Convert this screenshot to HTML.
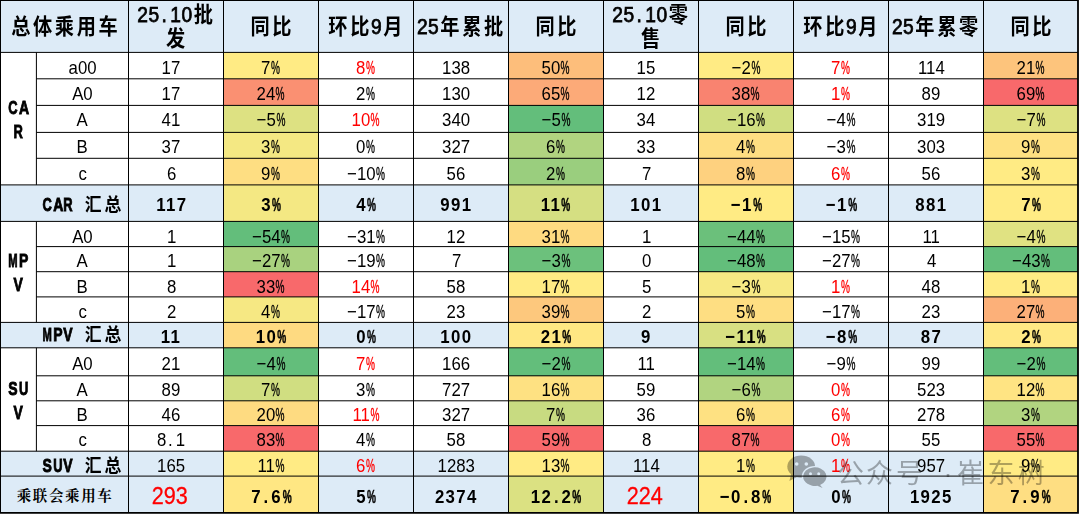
<!DOCTYPE html>
<html lang="zh"><head><meta charset="utf-8"><title>总体乘用车</title>
<style>html,body{margin:0;padding:0;background:#fff}
body{width:1080px;height:515px;position:relative;overflow:hidden;font-family:"Liberation Sans",sans-serif;font-size:18.67px;color:#000}
.c{position:absolute;display:flex;align-items:center;justify-content:center;text-align:center;box-sizing:border-box;white-space:nowrap;overflow:hidden}
.t{line-height:1;padding-top:5px;transform:scaleX(.9);transform-origin:50% 50%}
.num .t{padding-right:10.4px}
.u1 .t{padding-top:3px}
.d1 .t{padding-top:6.4px}
.dot{display:inline-block;width:.5556em;text-align:left;text-indent:.1em}
.pc{-webkit-text-stroke:.4px;display:inline-block;width:.5556em;transform:scaleX(.6);transform-origin:0 50%;margin-left:.02em}
.L{display:inline-block;width:.5556em;transform-origin:0 50%;text-align:left;margin-right:1.15px;font-weight:bold;-webkit-text-stroke:.9px #000;letter-spacing:0}
.k{display:inline-block;font-family:"Liberation Sans","Noto Sans CJK SC",sans-serif;font-weight:bold;-webkit-text-stroke:0;letter-spacing:0;text-align:center;line-height:1;text-indent:0}
.h{font-size:21.33px}
.h .t{line-height:24.7px;padding-top:1.6px}
.h .k{width:23.7px;font-size:21.33px;margin-right:.6px}
.h,.b{-webkit-text-stroke:.55px;letter-spacing:1.3px}
.b{font-weight:bold;-webkit-text-stroke:0;letter-spacing:1.5px}
.h{letter-spacing:.55px;-webkit-text-stroke:.75px}
.b .k{width:20.74px;font-size:18.67px;margin-right:1.1px}
.r{color:#FF0000}
.big{font-size:24px;-webkit-text-stroke:.3px #FF0000}
.big .t{padding-top:3px;padding-right:13px}
.grp .t{line-height:23.8px;padding-top:2.5px}
.sp{display:inline-block;width:11.5px}
.tot .t{padding-top:1px;padding-right:.5px;transform:none}
.tot .k{width:16.1px;font-size:14.5px;font-family:"Liberation Serif","Noto Serif CJK SC",serif;font-weight:bold}
.b .pc{-webkit-text-stroke:.5px #000}
#grid,#wm{position:absolute;left:0;top:0}
.lab10 .t{padding-top:.6px}
</style></head>
<body>
<div class="c h" style="left:0.50px;top:0.50px;width:128.00px;height:51.90px;background:#DDEBF7;"><div class="t"><span class="k">总</span><span class="k">体</span><span class="k">乘</span><span class="k">用</span><span class="k">车</span></div></div>
<div class="c h h2" style="left:128.50px;top:0.50px;width:95.00px;height:51.90px;background:#DDEBF7;"><div class="t">25<span class="dot">.</span>10<span class="k">批</span><br><span class="k">发</span></div></div>
<div class="c h" style="left:223.50px;top:0.50px;width:95.00px;height:51.90px;background:#DDEBF7;"><div class="t"><span class="k">同</span><span class="k">比</span></div></div>
<div class="c h" style="left:318.50px;top:0.50px;width:95.00px;height:51.90px;background:#DDEBF7;"><div class="t"><span class="k">环</span><span class="k">比</span>9<span class="k">月</span></div></div>
<div class="c h" style="left:413.50px;top:0.50px;width:95.00px;height:51.90px;background:#DDEBF7;"><div class="t">25<span class="k">年</span><span class="k">累</span><span class="k">批</span></div></div>
<div class="c h" style="left:508.50px;top:0.50px;width:95.00px;height:51.90px;background:#DDEBF7;"><div class="t"><span class="k">同</span><span class="k">比</span></div></div>
<div class="c h h2" style="left:603.50px;top:0.50px;width:95.00px;height:51.90px;background:#DDEBF7;"><div class="t">25<span class="dot">.</span>10<span class="k">零</span><br><span class="k">售</span></div></div>
<div class="c h" style="left:698.50px;top:0.50px;width:95.00px;height:51.90px;background:#DDEBF7;"><div class="t"><span class="k">同</span><span class="k">比</span></div></div>
<div class="c h" style="left:793.50px;top:0.50px;width:95.00px;height:51.90px;background:#DDEBF7;"><div class="t"><span class="k">环</span><span class="k">比</span>9<span class="k">月</span></div></div>
<div class="c h" style="left:888.50px;top:0.50px;width:95.00px;height:51.90px;background:#DDEBF7;"><div class="t">25<span class="k">年</span><span class="k">累</span><span class="k">零</span></div></div>
<div class="c h" style="left:983.50px;top:0.50px;width:94.70px;height:51.90px;background:#DDEBF7;"><div class="t"><span class="k">同</span><span class="k">比</span></div></div>
<div class="c b grp" style="left:0.50px;top:52.40px;width:35.90px;height:132.50px;"><div class="t"><span class="L" style="transform:scaleX(0.769)">C</span><span class="L" style="transform:scaleX(0.833)">A</span><br><span class="L" style="transform:scaleX(0.769)">R</span></div></div>
<div class="c b grp" style="left:0.50px;top:221.40px;width:35.90px;height:101.00px;"><div class="t"><span class="L" style="transform:scaleX(0.667)">M</span><span class="L" style="transform:scaleX(0.833)">P</span><br><span class="L" style="transform:scaleX(0.833)">V</span></div></div>
<div class="c b grp" style="left:0.50px;top:347.80px;width:35.90px;height:103.40px;"><div class="t"><span class="L" style="transform:scaleX(0.833)">S</span><span class="L" style="transform:scaleX(0.769)">U</span><br><span class="L" style="transform:scaleX(0.833)">V</span></div></div>
<div class="c" style="left:36.40px;top:52.40px;width:92.10px;height:26.40px;"><div class="t">a00</div></div>
<div class="c num" style="left:128.50px;top:52.40px;width:95.00px;height:26.40px;"><div class="t">17</div></div>
<div class="c" style="left:223.50px;top:52.40px;width:95.00px;height:26.40px;background:#FFEB84;"><div class="t">7<span class="pc">%</span></div></div>
<div class="c r" style="left:318.50px;top:52.40px;width:95.00px;height:26.40px;"><div class="t">8<span class="pc">%</span></div></div>
<div class="c num" style="left:413.50px;top:52.40px;width:95.00px;height:26.40px;"><div class="t">138</div></div>
<div class="c" style="left:508.50px;top:52.40px;width:95.00px;height:26.40px;background:#FDBE7B;"><div class="t">50<span class="pc">%</span></div></div>
<div class="c num" style="left:603.50px;top:52.40px;width:95.00px;height:26.40px;"><div class="t">15</div></div>
<div class="c" style="left:698.50px;top:52.40px;width:95.00px;height:26.40px;background:#FFEB84;"><div class="t">−2<span class="pc">%</span></div></div>
<div class="c r" style="left:793.50px;top:52.40px;width:95.00px;height:26.40px;"><div class="t">7<span class="pc">%</span></div></div>
<div class="c num" style="left:888.50px;top:52.40px;width:95.00px;height:26.40px;"><div class="t">114</div></div>
<div class="c" style="left:983.50px;top:52.40px;width:94.70px;height:26.40px;background:#FDC47C;"><div class="t">21<span class="pc">%</span></div></div>
<div class="c" style="left:36.40px;top:78.80px;width:92.10px;height:26.60px;"><div class="t">A0</div></div>
<div class="c num" style="left:128.50px;top:78.80px;width:95.00px;height:26.60px;"><div class="t">17</div></div>
<div class="c" style="left:223.50px;top:78.80px;width:95.00px;height:26.60px;background:#FA9072;"><div class="t">24<span class="pc">%</span></div></div>
<div class="c" style="left:318.50px;top:78.80px;width:95.00px;height:26.60px;"><div class="t">2<span class="pc">%</span></div></div>
<div class="c num" style="left:413.50px;top:78.80px;width:95.00px;height:26.60px;"><div class="t">130</div></div>
<div class="c" style="left:508.50px;top:78.80px;width:95.00px;height:26.60px;background:#FCAA78;"><div class="t">65<span class="pc">%</span></div></div>
<div class="c num" style="left:603.50px;top:78.80px;width:95.00px;height:26.60px;"><div class="t">12</div></div>
<div class="c" style="left:698.50px;top:78.80px;width:95.00px;height:26.60px;background:#F98370;"><div class="t">38<span class="pc">%</span></div></div>
<div class="c r" style="left:793.50px;top:78.80px;width:95.00px;height:26.60px;"><div class="t">1<span class="pc">%</span></div></div>
<div class="c num" style="left:888.50px;top:78.80px;width:95.00px;height:26.60px;"><div class="t">89</div></div>
<div class="c" style="left:983.50px;top:78.80px;width:94.70px;height:26.60px;background:#F8696B;"><div class="t">69<span class="pc">%</span></div></div>
<div class="c u1" style="left:36.40px;top:105.40px;width:92.10px;height:27.00px;"><div class="t">A</div></div>
<div class="c num u1" style="left:128.50px;top:105.40px;width:95.00px;height:27.00px;"><div class="t">41</div></div>
<div class="c u1" style="left:223.50px;top:105.40px;width:95.00px;height:27.00px;background:#DDE182;"><div class="t">−5<span class="pc">%</span></div></div>
<div class="c r u1" style="left:318.50px;top:105.40px;width:95.00px;height:27.00px;"><div class="t">10<span class="pc">%</span></div></div>
<div class="c num u1" style="left:413.50px;top:105.40px;width:95.00px;height:27.00px;"><div class="t">340</div></div>
<div class="c u1" style="left:508.50px;top:105.40px;width:95.00px;height:27.00px;background:#63BE7B;"><div class="t">−5<span class="pc">%</span></div></div>
<div class="c num u1" style="left:603.50px;top:105.40px;width:95.00px;height:27.00px;"><div class="t">34</div></div>
<div class="c u1" style="left:698.50px;top:105.40px;width:95.00px;height:27.00px;background:#D0DE81;"><div class="t">−16<span class="pc">%</span></div></div>
<div class="c u1" style="left:793.50px;top:105.40px;width:95.00px;height:27.00px;"><div class="t">−4<span class="pc">%</span></div></div>
<div class="c num u1" style="left:888.50px;top:105.40px;width:95.00px;height:27.00px;"><div class="t">319</div></div>
<div class="c u1" style="left:983.50px;top:105.40px;width:94.70px;height:27.00px;background:#DDE182;"><div class="t">−7<span class="pc">%</span></div></div>
<div class="c u1" style="left:36.40px;top:132.40px;width:92.10px;height:25.90px;"><div class="t">B</div></div>
<div class="c num u1" style="left:128.50px;top:132.40px;width:95.00px;height:25.90px;"><div class="t">37</div></div>
<div class="c u1" style="left:223.50px;top:132.40px;width:95.00px;height:25.90px;background:#F4E883;"><div class="t">3<span class="pc">%</span></div></div>
<div class="c u1" style="left:318.50px;top:132.40px;width:95.00px;height:25.90px;"><div class="t">0<span class="pc">%</span></div></div>
<div class="c num u1" style="left:413.50px;top:132.40px;width:95.00px;height:25.90px;"><div class="t">327</div></div>
<div class="c u1" style="left:508.50px;top:132.40px;width:95.00px;height:25.90px;background:#B1D480;"><div class="t">6<span class="pc">%</span></div></div>
<div class="c num u1" style="left:603.50px;top:132.40px;width:95.00px;height:25.90px;"><div class="t">33</div></div>
<div class="c u1" style="left:698.50px;top:132.40px;width:95.00px;height:25.90px;background:#FEDE82;"><div class="t">4<span class="pc">%</span></div></div>
<div class="c u1" style="left:793.50px;top:132.40px;width:95.00px;height:25.90px;"><div class="t">−3<span class="pc">%</span></div></div>
<div class="c num u1" style="left:888.50px;top:132.40px;width:95.00px;height:25.90px;"><div class="t">303</div></div>
<div class="c u1" style="left:983.50px;top:132.40px;width:94.70px;height:25.90px;background:#FEE182;"><div class="t">9<span class="pc">%</span></div></div>
<div class="c" style="left:36.40px;top:158.30px;width:92.10px;height:26.60px;"><div class="t">c</div></div>
<div class="c num" style="left:128.50px;top:158.30px;width:95.00px;height:26.60px;"><div class="t">6</div></div>
<div class="c" style="left:223.50px;top:158.30px;width:95.00px;height:26.60px;background:#FEDE82;"><div class="t">9<span class="pc">%</span></div></div>
<div class="c" style="left:318.50px;top:158.30px;width:95.00px;height:26.60px;"><div class="t">−10<span class="pc">%</span></div></div>
<div class="c num" style="left:413.50px;top:158.30px;width:95.00px;height:26.60px;"><div class="t">56</div></div>
<div class="c" style="left:508.50px;top:158.30px;width:95.00px;height:26.60px;background:#9ACE7E;"><div class="t">2<span class="pc">%</span></div></div>
<div class="c num" style="left:603.50px;top:158.30px;width:95.00px;height:26.60px;"><div class="t">7</div></div>
<div class="c" style="left:698.50px;top:158.30px;width:95.00px;height:26.60px;background:#FED17F;"><div class="t">8<span class="pc">%</span></div></div>
<div class="c r" style="left:793.50px;top:158.30px;width:95.00px;height:26.60px;"><div class="t">6<span class="pc">%</span></div></div>
<div class="c num" style="left:888.50px;top:158.30px;width:95.00px;height:26.60px;"><div class="t">56</div></div>
<div class="c" style="left:983.50px;top:158.30px;width:94.70px;height:26.60px;background:#FFEB84;"><div class="t">3<span class="pc">%</span></div></div>
<div class="c" style="left:0.50px;top:184.90px;width:35.90px;height:36.50px;background:#DDEBF7;"></div>
<div class="c b lab5" style="left:36.40px;top:184.90px;width:92.10px;height:36.50px;background:#DDEBF7;"><div class="t"><span class="L" style="transform:scaleX(0.769)">C</span><span class="L" style="transform:scaleX(0.833)">A</span><span class="L" style="transform:scaleX(0.769)">R</span><span class="sp"></span><span class="k">汇</span><span class="k">总</span></div></div>
<div class="c b num" style="left:128.50px;top:184.90px;width:95.00px;height:36.50px;background:#DDEBF7;"><div class="t">117</div></div>
<div class="c b" style="left:223.50px;top:184.90px;width:95.00px;height:36.50px;background:#F4E883;"><div class="t">3<span class="pc">%</span></div></div>
<div class="c b" style="left:318.50px;top:184.90px;width:95.00px;height:36.50px;background:#DDEBF7;"><div class="t">4<span class="pc">%</span></div></div>
<div class="c b num" style="left:413.50px;top:184.90px;width:95.00px;height:36.50px;background:#DDEBF7;"><div class="t">991</div></div>
<div class="c b" style="left:508.50px;top:184.90px;width:95.00px;height:36.50px;background:#D5DF82;"><div class="t">11<span class="pc">%</span></div></div>
<div class="c b num" style="left:603.50px;top:184.90px;width:95.00px;height:36.50px;background:#DDEBF7;"><div class="t">101</div></div>
<div class="c b" style="left:698.50px;top:184.90px;width:95.00px;height:36.50px;background:#FFEB84;"><div class="t">−1<span class="pc">%</span></div></div>
<div class="c b" style="left:793.50px;top:184.90px;width:95.00px;height:36.50px;background:#DDEBF7;"><div class="t">−1<span class="pc">%</span></div></div>
<div class="c b num" style="left:888.50px;top:184.90px;width:95.00px;height:36.50px;background:#DDEBF7;"><div class="t">881</div></div>
<div class="c b" style="left:983.50px;top:184.90px;width:94.70px;height:36.50px;background:#FFEB84;"><div class="t">7<span class="pc">%</span></div></div>
<div class="c d1" style="left:36.40px;top:221.40px;width:92.10px;height:25.20px;"><div class="t">A0</div></div>
<div class="c num d1" style="left:128.50px;top:221.40px;width:95.00px;height:25.20px;"><div class="t">1</div></div>
<div class="c d1" style="left:223.50px;top:221.40px;width:95.00px;height:25.20px;background:#63BE7B;"><div class="t">−54<span class="pc">%</span></div></div>
<div class="c d1" style="left:318.50px;top:221.40px;width:95.00px;height:25.20px;"><div class="t">−31<span class="pc">%</span></div></div>
<div class="c num d1" style="left:413.50px;top:221.40px;width:95.00px;height:25.20px;"><div class="t">12</div></div>
<div class="c d1" style="left:508.50px;top:221.40px;width:95.00px;height:25.20px;background:#FEDA81;"><div class="t">31<span class="pc">%</span></div></div>
<div class="c num d1" style="left:603.50px;top:221.40px;width:95.00px;height:25.20px;"><div class="t">1</div></div>
<div class="c d1" style="left:698.50px;top:221.40px;width:95.00px;height:25.20px;background:#6BC07B;"><div class="t">−44<span class="pc">%</span></div></div>
<div class="c d1" style="left:793.50px;top:221.40px;width:95.00px;height:25.20px;"><div class="t">−15<span class="pc">%</span></div></div>
<div class="c num d1" style="left:888.50px;top:221.40px;width:95.00px;height:25.20px;"><div class="t">11</div></div>
<div class="c d1" style="left:983.50px;top:221.40px;width:94.70px;height:25.20px;background:#E0E282;"><div class="t">−4<span class="pc">%</span></div></div>
<div class="c" style="left:36.40px;top:246.60px;width:92.10px;height:25.10px;"><div class="t">A</div></div>
<div class="c num" style="left:128.50px;top:246.60px;width:95.00px;height:25.10px;"><div class="t">1</div></div>
<div class="c" style="left:223.50px;top:246.60px;width:95.00px;height:25.10px;background:#A9D27F;"><div class="t">−27<span class="pc">%</span></div></div>
<div class="c" style="left:318.50px;top:246.60px;width:95.00px;height:25.10px;"><div class="t">−19<span class="pc">%</span></div></div>
<div class="c num" style="left:413.50px;top:246.60px;width:95.00px;height:25.10px;"><div class="t">7</div></div>
<div class="c" style="left:508.50px;top:246.60px;width:95.00px;height:25.10px;background:#6CC17C;"><div class="t">−3<span class="pc">%</span></div></div>
<div class="c num" style="left:603.50px;top:246.60px;width:95.00px;height:25.10px;"><div class="t">0</div></div>
<div class="c" style="left:698.50px;top:246.60px;width:95.00px;height:25.10px;background:#63BE7B;"><div class="t">−48<span class="pc">%</span></div></div>
<div class="c" style="left:793.50px;top:246.60px;width:95.00px;height:25.10px;"><div class="t">−27<span class="pc">%</span></div></div>
<div class="c num" style="left:888.50px;top:246.60px;width:95.00px;height:25.10px;"><div class="t">4</div></div>
<div class="c" style="left:983.50px;top:246.60px;width:94.70px;height:25.10px;background:#63BE7B;"><div class="t">−43<span class="pc">%</span></div></div>
<div class="c d1" style="left:36.40px;top:271.70px;width:92.10px;height:25.20px;"><div class="t">B</div></div>
<div class="c num d1" style="left:128.50px;top:271.70px;width:95.00px;height:25.20px;"><div class="t">8</div></div>
<div class="c d1" style="left:223.50px;top:271.70px;width:95.00px;height:25.20px;background:#F8696B;"><div class="t">33<span class="pc">%</span></div></div>
<div class="c r d1" style="left:318.50px;top:271.70px;width:95.00px;height:25.20px;"><div class="t">14<span class="pc">%</span></div></div>
<div class="c num d1" style="left:413.50px;top:271.70px;width:95.00px;height:25.20px;"><div class="t">58</div></div>
<div class="c d1" style="left:508.50px;top:271.70px;width:95.00px;height:25.20px;background:#FFEB84;"><div class="t">17<span class="pc">%</span></div></div>
<div class="c num d1" style="left:603.50px;top:271.70px;width:95.00px;height:25.20px;"><div class="t">5</div></div>
<div class="c d1" style="left:698.50px;top:271.70px;width:95.00px;height:25.20px;background:#F7E984;"><div class="t">−3<span class="pc">%</span></div></div>
<div class="c r d1" style="left:793.50px;top:271.70px;width:95.00px;height:25.20px;"><div class="t">1<span class="pc">%</span></div></div>
<div class="c num d1" style="left:888.50px;top:271.70px;width:95.00px;height:25.20px;"><div class="t">48</div></div>
<div class="c d1" style="left:983.50px;top:271.70px;width:94.70px;height:25.20px;background:#FFEB84;"><div class="t">1<span class="pc">%</span></div></div>
<div class="c" style="left:36.40px;top:296.90px;width:92.10px;height:25.50px;"><div class="t">c</div></div>
<div class="c num" style="left:128.50px;top:296.90px;width:95.00px;height:25.50px;"><div class="t">2</div></div>
<div class="c" style="left:223.50px;top:296.90px;width:95.00px;height:25.50px;background:#F6E883;"><div class="t">4<span class="pc">%</span></div></div>
<div class="c" style="left:318.50px;top:296.90px;width:95.00px;height:25.50px;"><div class="t">−17<span class="pc">%</span></div></div>
<div class="c num" style="left:413.50px;top:296.90px;width:95.00px;height:25.50px;"><div class="t">23</div></div>
<div class="c" style="left:508.50px;top:296.90px;width:95.00px;height:25.50px;background:#FDC87D;"><div class="t">39<span class="pc">%</span></div></div>
<div class="c num" style="left:603.50px;top:296.90px;width:95.00px;height:25.50px;"><div class="t">2</div></div>
<div class="c" style="left:698.50px;top:296.90px;width:95.00px;height:25.50px;background:#FEDE82;"><div class="t">5<span class="pc">%</span></div></div>
<div class="c" style="left:793.50px;top:296.90px;width:95.00px;height:25.50px;"><div class="t">−17<span class="pc">%</span></div></div>
<div class="c num" style="left:888.50px;top:296.90px;width:95.00px;height:25.50px;"><div class="t">23</div></div>
<div class="c" style="left:983.50px;top:296.90px;width:94.70px;height:25.50px;background:#FCB079;"><div class="t">27<span class="pc">%</span></div></div>
<div class="c" style="left:0.50px;top:322.40px;width:35.90px;height:25.40px;background:#DDEBF7;"></div>
<div class="c b lab10" style="left:36.40px;top:322.40px;width:92.10px;height:25.40px;background:#DDEBF7;"><div class="t"><span class="L" style="transform:scaleX(0.667)">M</span><span class="L" style="transform:scaleX(0.833)">P</span><span class="L" style="transform:scaleX(0.833)">V</span><span class="sp"></span><span class="k">汇</span><span class="k">总</span></div></div>
<div class="c b num" style="left:128.50px;top:322.40px;width:95.00px;height:25.40px;background:#DDEBF7;"><div class="t">11</div></div>
<div class="c b" style="left:223.50px;top:322.40px;width:95.00px;height:25.40px;background:#FEDA81;"><div class="t">10<span class="pc">%</span></div></div>
<div class="c b" style="left:318.50px;top:322.40px;width:95.00px;height:25.40px;background:#DDEBF7;"><div class="t">0<span class="pc">%</span></div></div>
<div class="c b num" style="left:413.50px;top:322.40px;width:95.00px;height:25.40px;background:#DDEBF7;"><div class="t">100</div></div>
<div class="c b" style="left:508.50px;top:322.40px;width:95.00px;height:25.40px;background:#FFE783;"><div class="t">21<span class="pc">%</span></div></div>
<div class="c b num" style="left:603.50px;top:322.40px;width:95.00px;height:25.40px;background:#DDEBF7;"><div class="t">9</div></div>
<div class="c b" style="left:698.50px;top:322.40px;width:95.00px;height:25.40px;background:#D8E082;"><div class="t">−11<span class="pc">%</span></div></div>
<div class="c b" style="left:793.50px;top:322.40px;width:95.00px;height:25.40px;background:#DDEBF7;"><div class="t">−8<span class="pc">%</span></div></div>
<div class="c b num" style="left:888.50px;top:322.40px;width:95.00px;height:25.40px;background:#DDEBF7;"><div class="t">87</div></div>
<div class="c b" style="left:983.50px;top:322.40px;width:94.70px;height:25.40px;background:#FFE884;"><div class="t">2<span class="pc">%</span></div></div>
<div class="c" style="left:36.40px;top:347.80px;width:92.10px;height:28.00px;"><div class="t">A0</div></div>
<div class="c num" style="left:128.50px;top:347.80px;width:95.00px;height:28.00px;"><div class="t">21</div></div>
<div class="c" style="left:223.50px;top:347.80px;width:95.00px;height:28.00px;background:#63BE7B;"><div class="t">−4<span class="pc">%</span></div></div>
<div class="c r" style="left:318.50px;top:347.80px;width:95.00px;height:28.00px;"><div class="t">7<span class="pc">%</span></div></div>
<div class="c num" style="left:413.50px;top:347.80px;width:95.00px;height:28.00px;"><div class="t">166</div></div>
<div class="c" style="left:508.50px;top:347.80px;width:95.00px;height:28.00px;background:#63BE7B;"><div class="t">−2<span class="pc">%</span></div></div>
<div class="c num" style="left:603.50px;top:347.80px;width:95.00px;height:28.00px;"><div class="t">11</div></div>
<div class="c" style="left:698.50px;top:347.80px;width:95.00px;height:28.00px;background:#63BE7B;"><div class="t">−14<span class="pc">%</span></div></div>
<div class="c" style="left:793.50px;top:347.80px;width:95.00px;height:28.00px;"><div class="t">−9<span class="pc">%</span></div></div>
<div class="c num" style="left:888.50px;top:347.80px;width:95.00px;height:28.00px;"><div class="t">99</div></div>
<div class="c" style="left:983.50px;top:347.80px;width:94.70px;height:28.00px;background:#63BE7B;"><div class="t">−2<span class="pc">%</span></div></div>
<div class="c" style="left:36.40px;top:375.80px;width:92.10px;height:25.00px;"><div class="t">A</div></div>
<div class="c num" style="left:128.50px;top:375.80px;width:95.00px;height:25.00px;"><div class="t">89</div></div>
<div class="c" style="left:223.50px;top:375.80px;width:95.00px;height:25.00px;background:#D0DE81;"><div class="t">7<span class="pc">%</span></div></div>
<div class="c" style="left:318.50px;top:375.80px;width:95.00px;height:25.00px;"><div class="t">3<span class="pc">%</span></div></div>
<div class="c num" style="left:413.50px;top:375.80px;width:95.00px;height:25.00px;"><div class="t">727</div></div>
<div class="c" style="left:508.50px;top:375.80px;width:95.00px;height:25.00px;background:#FEE182;"><div class="t">16<span class="pc">%</span></div></div>
<div class="c num" style="left:603.50px;top:375.80px;width:95.00px;height:25.00px;"><div class="t">59</div></div>
<div class="c" style="left:698.50px;top:375.80px;width:95.00px;height:25.00px;background:#B1D480;"><div class="t">−6<span class="pc">%</span></div></div>
<div class="c r" style="left:793.50px;top:375.80px;width:95.00px;height:25.00px;"><div class="t">0<span class="pc">%</span></div></div>
<div class="c num" style="left:888.50px;top:375.80px;width:95.00px;height:25.00px;"><div class="t">523</div></div>
<div class="c" style="left:983.50px;top:375.80px;width:94.70px;height:25.00px;background:#FFE483;"><div class="t">12<span class="pc">%</span></div></div>
<div class="c" style="left:36.40px;top:400.80px;width:92.10px;height:24.80px;"><div class="t">B</div></div>
<div class="c num" style="left:128.50px;top:400.80px;width:95.00px;height:24.80px;"><div class="t">46</div></div>
<div class="c" style="left:223.50px;top:400.80px;width:95.00px;height:24.80px;background:#FEDB81;"><div class="t">20<span class="pc">%</span></div></div>
<div class="c r" style="left:318.50px;top:400.80px;width:95.00px;height:24.80px;"><div class="t">11<span class="pc">%</span></div></div>
<div class="c num" style="left:413.50px;top:400.80px;width:95.00px;height:24.80px;"><div class="t">327</div></div>
<div class="c" style="left:508.50px;top:400.80px;width:95.00px;height:24.80px;background:#C8DB81;"><div class="t">7<span class="pc">%</span></div></div>
<div class="c num" style="left:603.50px;top:400.80px;width:95.00px;height:24.80px;"><div class="t">36</div></div>
<div class="c" style="left:698.50px;top:400.80px;width:95.00px;height:24.80px;background:#FEE182;"><div class="t">6<span class="pc">%</span></div></div>
<div class="c r" style="left:793.50px;top:400.80px;width:95.00px;height:24.80px;"><div class="t">6<span class="pc">%</span></div></div>
<div class="c num" style="left:888.50px;top:400.80px;width:95.00px;height:24.80px;"><div class="t">278</div></div>
<div class="c" style="left:983.50px;top:400.80px;width:94.70px;height:24.80px;background:#B1D480;"><div class="t">3<span class="pc">%</span></div></div>
<div class="c u1" style="left:36.40px;top:425.60px;width:92.10px;height:25.60px;"><div class="t">c</div></div>
<div class="c num u1" style="left:128.50px;top:425.60px;width:95.00px;height:25.60px;"><div class="t">8<span class="dot">.</span>1</div></div>
<div class="c u1" style="left:223.50px;top:425.60px;width:95.00px;height:25.60px;background:#F8696B;"><div class="t">83<span class="pc">%</span></div></div>
<div class="c u1" style="left:318.50px;top:425.60px;width:95.00px;height:25.60px;"><div class="t">4<span class="pc">%</span></div></div>
<div class="c num u1" style="left:413.50px;top:425.60px;width:95.00px;height:25.60px;"><div class="t">58</div></div>
<div class="c u1" style="left:508.50px;top:425.60px;width:95.00px;height:25.60px;background:#F8696B;"><div class="t">59<span class="pc">%</span></div></div>
<div class="c num u1" style="left:603.50px;top:425.60px;width:95.00px;height:25.60px;"><div class="t">8</div></div>
<div class="c u1" style="left:698.50px;top:425.60px;width:95.00px;height:25.60px;background:#F8696B;"><div class="t">87<span class="pc">%</span></div></div>
<div class="c r u1" style="left:793.50px;top:425.60px;width:95.00px;height:25.60px;"><div class="t">0<span class="pc">%</span></div></div>
<div class="c num u1" style="left:888.50px;top:425.60px;width:95.00px;height:25.60px;"><div class="t">55</div></div>
<div class="c u1" style="left:983.50px;top:425.60px;width:94.70px;height:25.60px;background:#F8696B;"><div class="t">55<span class="pc">%</span></div></div>
<div class="c" style="left:0.50px;top:451.20px;width:35.90px;height:24.90px;background:#DDEBF7;"></div>
<div class="c b lab15" style="left:36.40px;top:451.20px;width:92.10px;height:24.90px;background:#DDEBF7;"><div class="t"><span class="L" style="transform:scaleX(0.833)">S</span><span class="L" style="transform:scaleX(0.769)">U</span><span class="L" style="transform:scaleX(0.833)">V</span><span class="sp"></span><span class="k">汇</span><span class="k">总</span></div></div>
<div class="c num" style="left:128.50px;top:451.20px;width:95.00px;height:24.90px;background:#DDEBF7;"><div class="t">165</div></div>
<div class="c" style="left:223.50px;top:451.20px;width:95.00px;height:24.90px;background:#FFEB84;"><div class="t">11<span class="pc">%</span></div></div>
<div class="c r" style="left:318.50px;top:451.20px;width:95.00px;height:24.90px;background:#DDEBF7;"><div class="t">6<span class="pc">%</span></div></div>
<div class="c num" style="left:413.50px;top:451.20px;width:95.00px;height:24.90px;background:#DDEBF7;"><div class="t">1283</div></div>
<div class="c" style="left:508.50px;top:451.20px;width:95.00px;height:24.90px;background:#FFEB84;"><div class="t">13<span class="pc">%</span></div></div>
<div class="c num" style="left:603.50px;top:451.20px;width:95.00px;height:24.90px;background:#DDEBF7;"><div class="t">114</div></div>
<div class="c" style="left:698.50px;top:451.20px;width:95.00px;height:24.90px;background:#FFEB84;"><div class="t">1<span class="pc">%</span></div></div>
<div class="c r" style="left:793.50px;top:451.20px;width:95.00px;height:24.90px;background:#DDEBF7;"><div class="t">1<span class="pc">%</span></div></div>
<div class="c num" style="left:888.50px;top:451.20px;width:95.00px;height:24.90px;background:#DDEBF7;"><div class="t">957</div></div>
<div class="c" style="left:983.50px;top:451.20px;width:94.70px;height:24.90px;background:#FFEB84;"><div class="t">9<span class="pc">%</span></div></div>
<div class="c tot" style="left:0.50px;top:476.10px;width:128.00px;height:36.70px;background:#DDEBF7;"><div class="t"><span class="k">乘</span><span class="k">联</span><span class="k">会</span><span class="k">乘</span><span class="k">用</span><span class="k">车</span></div></div>
<div class="c r big num" style="left:128.50px;top:476.10px;width:95.00px;height:36.70px;background:#DDEBF7;"><div class="t">293</div></div>
<div class="c b" style="left:223.50px;top:476.10px;width:95.00px;height:36.70px;background:#FFE783;"><div class="t">7<span class="dot">.</span>6<span class="pc">%</span></div></div>
<div class="c b" style="left:318.50px;top:476.10px;width:95.00px;height:36.70px;background:#DDEBF7;"><div class="t">5<span class="pc">%</span></div></div>
<div class="c b num" style="left:413.50px;top:476.10px;width:95.00px;height:36.70px;background:#DDEBF7;"><div class="t">2374</div></div>
<div class="c b" style="left:508.50px;top:476.10px;width:95.00px;height:36.70px;background:#DBE182;"><div class="t">12<span class="dot">.</span>2<span class="pc">%</span></div></div>
<div class="c r big num" style="left:603.50px;top:476.10px;width:95.00px;height:36.70px;background:#DDEBF7;"><div class="t">224</div></div>
<div class="c b" style="left:698.50px;top:476.10px;width:95.00px;height:36.70px;background:#FFEB84;"><div class="t">−0<span class="dot">.</span>8<span class="pc">%</span></div></div>
<div class="c b" style="left:793.50px;top:476.10px;width:95.00px;height:36.70px;background:#DDEBF7;"><div class="t">0<span class="pc">%</span></div></div>
<div class="c b num" style="left:888.50px;top:476.10px;width:95.00px;height:36.70px;background:#DDEBF7;"><div class="t">1925</div></div>
<div class="c b" style="left:983.50px;top:476.10px;width:94.70px;height:36.70px;background:#FEDE82;"><div class="t">7<span class="dot">.</span>9<span class="pc">%</span></div></div>
<svg id="grid" width="1080" height="515" viewBox="0 0 1080 515"><path d="M0.00 0.50H1078.00M0.00 52.40H1078.00M36.40 78.80H1078.00M36.40 105.40H1078.00M36.40 132.40H1078.00M36.40 158.30H1078.00M0.00 184.90H1078.00M0.00 221.40H1078.00M36.40 246.60H1078.00M36.40 271.70H1078.00M36.40 296.90H1078.00M0.00 322.40H1078.00M0.00 347.80H1078.00M36.40 375.80H1078.00M36.40 400.80H1078.00M36.40 425.60H1078.00M0.00 451.20H1078.00M0.00 476.10H1078.00M0.50 0.00V512.85M36.40 52.40V184.90M36.40 221.40V322.40M36.40 347.80V451.20M128.50 0.00V512.85M223.50 0.00V512.85M318.50 0.00V512.85M413.50 0.00V512.85M508.50 0.00V512.85M603.50 0.00V512.85M698.50 0.00V512.85M793.50 0.00V512.85M888.50 0.00V512.85M983.50 0.00V512.85" stroke="#000" stroke-width="1" fill="none"/><path d="M0.00 512.85H1078.90M1078.00 0.00V513.75" stroke="#000" stroke-width="1.8" fill="none"/></svg>
<svg id="wm" width="1080" height="515" viewBox="0 0 1080 515" role="img" aria-label="公众号 · 崔东树"><g fill="#000" opacity="0.31">
<mask id="wmk" maskUnits="userSpaceOnUse" x="780" y="450" width="60" height="45">
<rect x="780" y="450" width="60" height="45" fill="#000"/>
<ellipse cx="801.2" cy="466.6" rx="13.9" ry="11.1" fill="#fff"/>
<path d="M791.2 473.5L789.4 480.9L797.5 476.8Z" fill="#fff"/>
<ellipse cx="814.8" cy="476.6" rx="13.1" ry="10.7" fill="#000"/>
<circle cx="796.7" cy="464" r="1.8" fill="#000"/><circle cx="806.3" cy="464" r="1.8" fill="#000"/>
</mask>
<rect x="780" y="450" width="60" height="45" mask="url(#wmk)"/>
<path fill-rule="evenodd" d="M803.1 476.6A11.7 9.3 0 1 1 820.1 484.9L822.6 488.1L817.3 485.7A11.7 9.3 0 0 1 803.1 476.6ZM809 473.7a1.5 1.5 0 1 0 3 0a1.5 1.5 0 1 0 -3 0ZM817.2 473.7a1.5 1.5 0 1 0 3 0a1.5 1.5 0 1 0 -3 0Z"/>
<g font-family="'Liberation Sans','Noto Sans CJK SC',sans-serif" font-size="27" text-anchor="middle"><text x="850.5" y="483">公</text><text x="879.5" y="483">众</text><text x="909.5" y="483">号</text><text x="948" y="483">·</text><text x="970.5" y="483">崔</text><text x="1001" y="483">东</text><text x="1031.3" y="483">树</text></g></g></svg>
</body></html>
